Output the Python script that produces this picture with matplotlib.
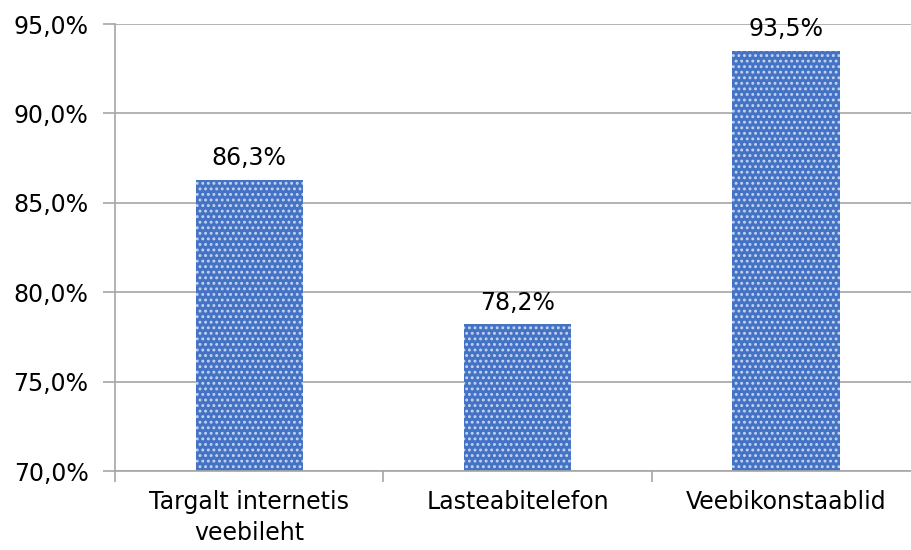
import matplotlib.pyplot as plt
import numpy as np

categories = ["Targalt internetis\nveebileht", "Lasteabitelefon", "Veebikonstaablid"]
values = [86.3, 78.2, 93.5]
yticks = [70, 75, 80, 85, 90, 95]

plt.rcParams['hatch.linewidth'] = 1.3

fig = plt.figure(figsize=(9.11, 5.5), dpi=100)
ax = fig.add_axes([115 / 911, 1 - 471 / 550, 805 / 911, (471 - 24) / 550])

x = np.arange(len(categories))
ax.bar(x, [v - 70 for v in values], bottom=70, width=0.4, facecolor="#4472c4",
       hatch="...", edgecolor="#c5d5ee", linewidth=0, zorder=2)
for xi, v in zip(x, values):
    ax.annotate(f"{v:.1f}%".replace(".", ","), (xi, v), xytext=(0, 7),
                textcoords="offset points", ha="center", va="bottom", fontsize=17)

ax.set_xlim(-0.5, 2.5)
ax.set_ylim(70, 95)
ax.set_yticks(yticks)
ax.set_yticklabels([f"{t:.1f}%".replace(".", ",") for t in yticks], fontsize=17)
ax.set_xticks(x)
ax.set_xticklabels(categories, fontsize=17, linespacing=1.35)
ax.set_xticks([-0.5, 0.5, 1.5, 2.5], minor=True)
ax.tick_params(axis="x", which="major", length=0, pad=14)
ax.tick_params(axis="x", which="minor", length=8, color="#a6a6a6", width=1.2)
ax.tick_params(axis="y", length=9, color="#a6a6a6", width=1.2, pad=10)
ax.grid(axis="y", color="#a6a6a6", linewidth=1.2, zorder=0)
for s in ["top", "right"]:
    ax.spines[s].set_visible(False)
for s in ["left", "bottom"]:
    ax.spines[s].set_color("#a6a6a6")
    ax.spines[s].set_linewidth(1.2)

fig.savefig("out.png", dpi=100)
